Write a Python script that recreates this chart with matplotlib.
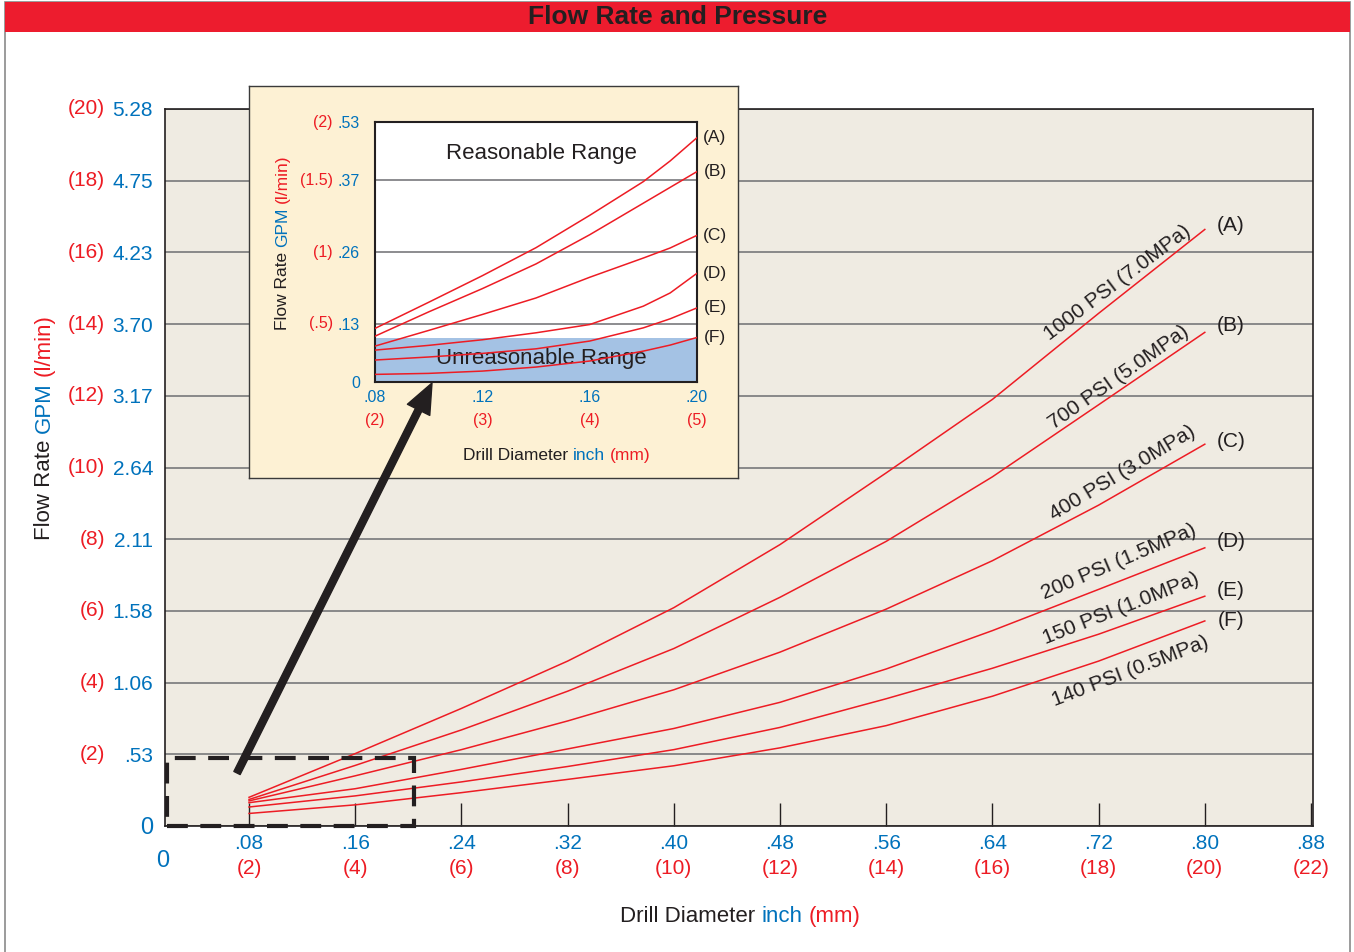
import matplotlib
matplotlib.use("Agg")
import matplotlib.pyplot as plt
from matplotlib.patches import Rectangle, FancyArrowPatch
from matplotlib.transforms import IdentityTransform, ScaledTranslation

plt.rcParams['font.family'] = ['Liberation Sans', 'DejaVu Sans']

RED = '#ed1c24'
BLUE = '#0072bc'
DARK = '#231f20'
GRID = '#6d6e71'

# ---- main chart data: flow rate in l/min vs drill diameter in inch
dia_in = [0.08, 0.16, 0.24, 0.32, 0.40, 0.48, 0.56, 0.64, 0.72, 0.80]
flow_a = [0.80, 2.02, 3.28, 4.60, 6.09, 7.85, 9.85, 11.90, 14.30, 16.64]
flow_b = [0.74, 1.69, 2.68, 3.76, 4.95, 6.38, 7.94, 9.74, 11.75, 13.77]
flow_c = [0.70, 1.40, 2.13, 2.93, 3.80, 4.85, 6.05, 7.40, 8.95, 10.65]
flow_d = [0.65, 1.04, 1.58, 2.15, 2.72, 3.45, 4.38, 5.45, 6.60, 7.76]
flow_e = [0.53, 0.84, 1.23, 1.66, 2.13, 2.75, 3.55, 4.40, 5.35, 6.41]
flow_f = [0.35, 0.59, 0.93, 1.30, 1.68, 2.18, 2.80, 3.62, 4.60, 5.72]
curve_tags = ['(A)', '(B)', '(C)', '(D)', '(E)', '(F)']
curve_names = ['1000 PSI (7.0MPa)', '700 PSI (5.0MPa)', '400 PSI (3.0MPa)',
               '200 PSI (1.5MPa)', '150 PSI (1.0MPa)', '140 PSI (0.5MPa)']

x_ticks = [0.08, 0.16, 0.24, 0.32, 0.40, 0.48, 0.56, 0.64, 0.72, 0.80, 0.88]
x_inch_labels = ['.08', '.16', '.24', '.32', '.40', '.48', '.56', '.64', '.72', '.80', '.88']
x_mm_labels = ['(2)', '(4)', '(6)', '(8)', '(10)', '(12)', '(14)', '(16)', '(18)', '(20)', '(22)']
y_lmin = [0, 2, 4, 6, 8, 10, 12, 14, 16, 18, 20]
y_gpm_labels = ['0', '.53', '1.06', '1.58', '2.11', '2.64', '3.17', '3.70', '4.23', '4.75', '5.28']

# ---- inset (close-up of small drills)
inset_dia = [0.08, 0.10, 0.12, 0.14, 0.16, 0.18, 0.19, 0.20]
inset_a = [0.468, 0.65, 0.835, 1.03, 1.255, 1.49, 1.634, 1.796]
inset_b = [0.414, 0.583, 0.745, 0.917, 1.12, 1.34, 1.45, 1.56]
inset_c = [0.345, 0.454, 0.565, 0.68, 0.824, 0.958, 1.028, 1.116]
inset_d = [0.317, 0.35, 0.389, 0.4375, 0.495, 0.623, 0.715, 0.852]
inset_e = [0.248, 0.269, 0.294, 0.326, 0.38, 0.472, 0.535, 0.611]
inset_f = [0.148, 0.155, 0.171, 0.199, 0.241, 0.31, 0.352, 0.405]
inset_x_ticks = [0.08, 0.12, 0.16, 0.20]
inset_x_inch = ['.08', '.12', '.16', '.20']
inset_x_mm = ['(2)', '(3)', '(4)', '(5)']
inset_y_lmin = [0, 0.5, 1.0, 1.5, 2.0]
inset_y_gpm = ['0', '.13', '.26', '.37', '.53']
inset_y_red = ['', '(.5)', '(1)', '(1.5)', '(2)']
unreasonable_top = 0.398
zoom_box_x = [0.0185, 0.2043]
zoom_box_y = [0, 1.9]

W, H = 1354, 952
fig = plt.figure(figsize=(W / 100, H / 100), dpi=100)
fig.patch.set_facecolor('white')


def fx(px):
    return px / W


def fy(py):
    return 1 - py / H


# outer frame + title bar
fig.add_artist(Rectangle((fx(5), -0.01), fx(1345), 1.01 - 1.5 / H, transform=fig.transFigure,
                         facecolor='none', edgecolor='#8a8a8a', lw=1.2, zorder=0))
fig.add_artist(Rectangle((fx(5), fy(32)), fx(1345), 30 / H, transform=fig.transFigure,
                         facecolor='#ed1c2e', edgecolor='none', zorder=1))
fig.text(fx(678), fy(17), 'Flow Rate and Pressure', ha='center', va='center',
         fontsize=19, fontweight='bold', color=DARK)

# ---- main axes
ax = fig.add_axes([fx(165), fy(826), fx(1148), 717 / H], facecolor='#efebe2', zorder=0)
ax.set_xlim(0.0167, 0.8815)
ax.set_ylim(0, 20)
ax.set_yticks(y_lmin)
ax.set_yticklabels(y_gpm_labels)
ax.grid(axis='y', color=GRID, lw=1.1)
ax.set_axisbelow(True)
ax.tick_params(axis='y', length=0, pad=8.6, labelsize=15, labelcolor=BLUE)
ax.get_yticklabels()[0].set_fontsize(17)
ax.set_xticks(x_ticks)
ax.set_xticklabels(x_inch_labels)
ax.tick_params(axis='x', direction='in', length=16.5, width=1, color=DARK,
               pad=6, labelsize=15, labelcolor=BLUE)
for s in ax.spines.values():
    s.set_color(DARK)
    s.set_linewidth(1.2)

ytr = ax.get_yaxis_transform() + ScaledTranslation(-0.60, 0, fig.dpi_scale_trans)
for v in y_lmin[1:]:
    ax.text(0, v, '(%d)' % v, transform=ytr, ha='right', va='center', fontsize=15, color=RED)
xtr = ax.get_xaxis_transform() + ScaledTranslation(0, -0.43, fig.dpi_scale_trans)
for v, lab in zip(x_ticks, x_mm_labels):
    ax.text(v, 0, lab, transform=xtr, ha='center', va='center', fontsize=15, color=RED)
fig.text(fx(163), fy(861), '0', ha='center', va='center', fontsize=17, color=BLUE)

flows = [flow_a, flow_b, flow_c, flow_d, flow_e, flow_f]
tag_lift = [4, 7, 3, 6, 6, 0]
label_pos = [(0.734, 15.15, 37), (0.735, 12.50, 35), (0.738, 9.85, 31),
             (0.735, 7.36, 23), (0.737, 6.05, 21.5), (0.744, 4.32, 21)]
for vals, tag, lift, name, (lx, ly, ang) in zip(flows, curve_tags, tag_lift, curve_names, label_pos):
    ax.plot(dia_in, vals, color=RED, lw=1.1, zorder=3)
    ax.annotate(tag, (dia_in[-1], vals[-1]), xytext=(26, lift), textcoords='offset pixels',
                ha='center', va='center', fontsize=15, color=DARK)
    ax.text(lx, ly, name, rotation=ang, rotation_mode='anchor', ha='center', va='center',
            fontsize=15, color=DARK)

ax.add_patch(Rectangle((zoom_box_x[0], zoom_box_y[0]), zoom_box_x[1] - zoom_box_x[0],
                       zoom_box_y[1] - zoom_box_y[0], fill=False, edgecolor=DARK, lw=3,
                       ls=(0, (5, 3)), zorder=4, clip_on=False))

# ---- inset panel
panel = fig.add_axes([fx(249), fy(478), fx(489), 392 / H], facecolor='#fdf1d4', zorder=2)
panel.set_xticks([])
panel.set_yticks([])
for s in panel.spines.values():
    s.set_color('#3a3a3a')
    s.set_linewidth(1)

ax2 = fig.add_axes([fx(375), fy(382), fx(322), 260 / H], facecolor='white', zorder=3)
ylo, yhi = 0.095, 1.905
ax2.set_xlim(inset_x_ticks[0], inset_x_ticks[-1])
ax2.set_ylim(ylo, yhi)
ax2.axhspan(ylo, unreasonable_top, color='#a4c2e4', lw=0, zorder=0)
for v in inset_y_lmin[1:-1]:
    ax2.axhline(v, color=GRID, lw=1.1, zorder=1)
ypos = [min(max(v, ylo), yhi) for v in inset_y_lmin]
ax2.set_yticks(ypos)
ax2.set_yticklabels(inset_y_gpm)
ax2.tick_params(axis='y', length=0, pad=10.8, labelsize=11.5, labelcolor=BLUE)
ax2.set_xticks(inset_x_ticks)
ax2.set_xticklabels(inset_x_inch)
ax2.tick_params(axis='x', length=0, pad=6, labelsize=11.5, labelcolor=BLUE)
for s in ax2.spines.values():
    s.set_color(DARK)
    s.set_linewidth(1.5)

ytr2 = ax2.get_yaxis_transform() + ScaledTranslation(-0.42, 0, fig.dpi_scale_trans)
for p, lab in zip(ypos, inset_y_red):
    if lab:
        ax2.text(0, p, lab, transform=ytr2, ha='right', va='center', fontsize=11.5, color=RED)
xtr2 = ax2.get_xaxis_transform() + ScaledTranslation(0, -0.38, fig.dpi_scale_trans)
for v, lab in zip(inset_x_ticks, inset_x_mm):
    ax2.text(v, 0, lab, transform=xtr2, ha='center', va='center', fontsize=11.5, color=RED)

ax2.text(0.142, 1.685, 'Reasonable Range', ha='center', va='center', fontsize=16, color=DARK, zorder=2)
ax2.text(0.142, 0.257, 'Unreasonable Range', ha='center', va='center', fontsize=16, color=DARK, zorder=2)
for vals, tag in zip([inset_a, inset_b, inset_c, inset_d, inset_e, inset_f], curve_tags):
    ax2.plot(inset_dia, vals, color=RED, lw=1.1, zorder=3)
    ax2.annotate(tag, (inset_dia[-1], vals[-1]), xytext=(18, 0), textcoords='offset pixels',
                 ha='center', va='center', fontsize=12.5, color=DARK, annotation_clip=False)

# arrow from the zoom box to the inset
fig.add_artist(FancyArrowPatch((fx(237), fy(773)), (fx(432), fy(383)), transform=fig.transFigure,
                               arrowstyle='simple,head_length=1.2,head_width=1.0,tail_width=0.28',
                               mutation_scale=18, color=DARK, shrinkA=0, shrinkB=0, zorder=10))


# multi-coloured axis titles
def colored_line(pieces, x, y, size, rotation=0):
    renderer = fig.canvas.get_renderer()
    gap = size * fig.dpi / 72 * 0.278
    arts, lengths = [], []
    for s, c in pieces:
        t = fig.text(0, 0, s, color=c, fontsize=size, rotation=rotation, rotation_mode='anchor',
                     ha='left', va='baseline', transform=IdentityTransform(), zorder=10)
        bb = t.get_window_extent(renderer)
        lengths.append(bb.height if rotation else bb.width)
        arts.append(t)
    pos = -(sum(lengths) + gap * (len(pieces) - 1)) / 2
    for t, L in zip(arts, lengths):
        if rotation:
            t.set_position((x, H - y + pos))
        else:
            t.set_position((x + pos, H - y))
        pos += L + gap


axis_pieces = [('Drill Diameter', DARK), ('inch', BLUE), ('(mm)', RED)]
flow_pieces = [('Flow Rate', DARK), ('GPM', BLUE), ('(l/min)', RED)]
colored_line(axis_pieces, 740, 922, 16)
colored_line(flow_pieces, 50, 427, 16, rotation=90)
colored_line(axis_pieces, 557, 460, 12.5)
colored_line(flow_pieces, 287, 242, 12.5, rotation=90)

fig.savefig('out.png', dpi=100)
